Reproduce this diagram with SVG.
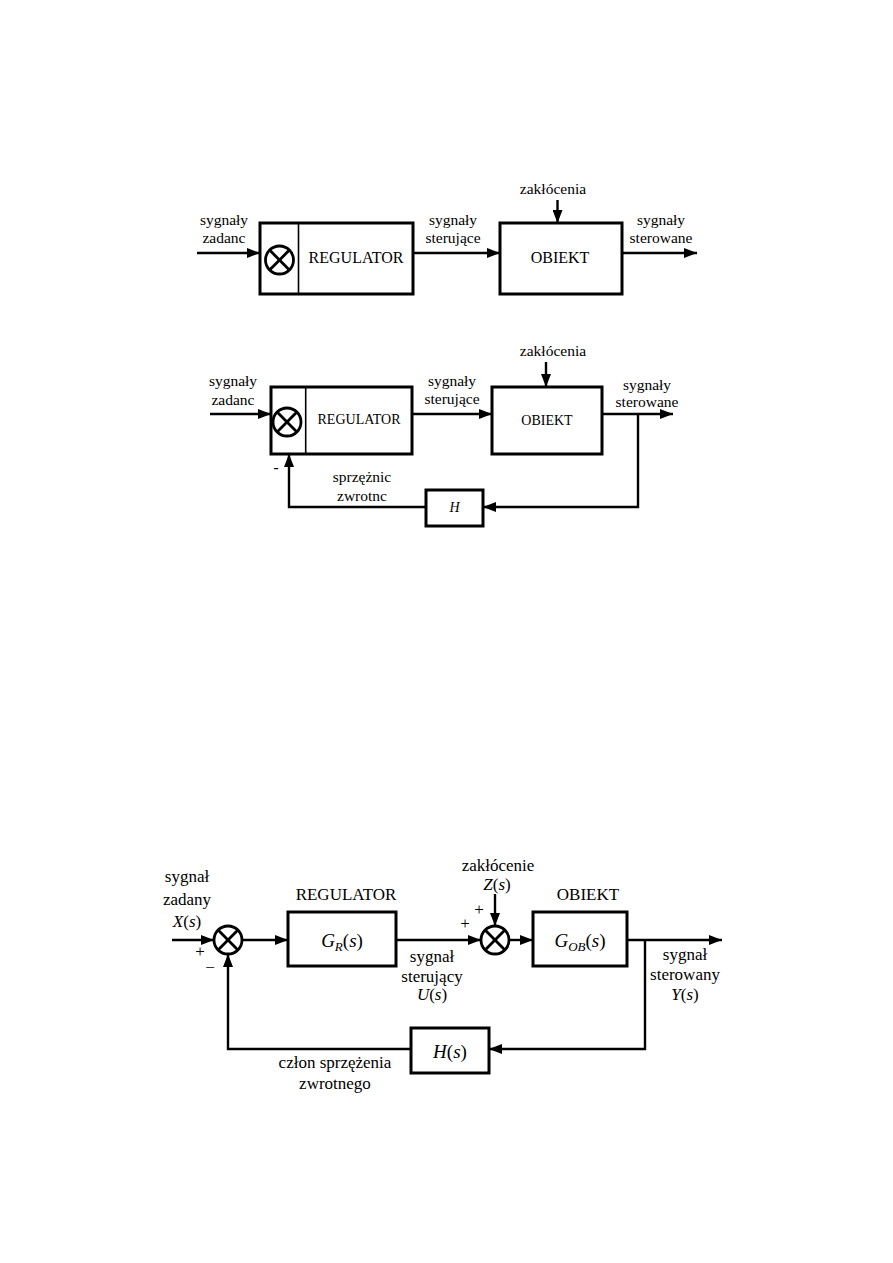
<svg xmlns="http://www.w3.org/2000/svg" width="893" height="1263" viewBox="0 0 893 1263">
<style>
.box{fill:none;stroke:#000;stroke-width:3}
.div{stroke:#000;stroke-width:1.6}
.sum{fill:none;stroke:#000;stroke-width:2.8}
.ln{fill:none;stroke:#000;stroke-width:2.4}
text{font-family:'Liberation Serif','DejaVu Serif','Times New Roman',serif;fill:#000;text-anchor:middle}
.l1{font-size:15.5px}
.b1{font-size:16px}
.b2{font-size:14px}
.l2{font-size:15.5px}
.l3{font-size:17px}
.m3{font-size:19px}
.it{font-style:italic}
</style>
<defs>
<marker id="ar" viewBox="0 0 13 10" refX="13" refY="5" markerWidth="13" markerHeight="10" orient="auto" markerUnits="userSpaceOnUse">
<path d="M0,0 L13,5 L0,10 z" fill="#000"/>
</marker>
</defs>
<rect width="893" height="1263" fill="#fff"/>
<g font-family="Liberation Serif, DejaVu Serif, serif">

<!-- Diagram 1 -->
<g id="d1-regulator">
<rect class="box" x="260" y="223" width="153" height="71"/>
<line class="div" x1="298.5" y1="223" x2="298.5" y2="294"/>
<circle class="sum" cx="279.5" cy="260" r="14"/>
<line class="sum" x1="269.6" y1="250.1" x2="289.4" y2="269.9"/>
<line class="sum" x1="289.4" y1="250.1" x2="269.6" y2="269.9"/>
<text class="b1" x="356" y="263">REGULATOR</text>
</g>
<g id="d1-obiekt">
<rect class="box" x="500" y="223" width="122" height="71"/>
<text class="b1" x="560" y="263">OBIEKT</text>
</g>
<g id="d1-connectors">
<line class="ln" x1="197" y1="253" x2="260" y2="253" marker-end="url(#ar)"/>
<line class="ln" x1="413" y1="253" x2="500" y2="253" marker-end="url(#ar)"/>
<line class="ln" x1="557.5" y1="200" x2="557.5" y2="223" marker-end="url(#ar)"/>
<line class="ln" x1="622" y1="253" x2="697" y2="253" marker-end="url(#ar)"/>
</g>
<g id="d1-labels">
<text class="l1" x="224" y="225">sygnały</text>
<text class="l1" x="224" y="243">zadanc</text>
<text class="l1" x="453" y="225">sygnały</text>
<text class="l1" x="453" y="243">sterujące</text>
<text class="l1" x="661" y="225">sygnały</text>
<text class="l1" x="661" y="243">sterowane</text>
<text class="l1" x="553" y="194">zakłócenia</text>
</g>

<!-- Diagram 2 -->
<g id="d2-regulator">
<rect class="box" x="271" y="387" width="141" height="67"/>
<line class="div" x1="305.7" y1="387" x2="305.7" y2="454"/>
<circle class="sum" cx="287" cy="422" r="14"/>
<line class="sum" x1="277.1" y1="412.1" x2="296.9" y2="431.9"/>
<line class="sum" x1="296.9" y1="412.1" x2="277.1" y2="431.9"/>
<text class="b2" x="359" y="424">REGULATOR</text>
</g>
<g id="d2-obiekt">
<rect class="box" x="492" y="387" width="110" height="67"/>
<text class="b2" x="547" y="425">OBIEKT</text>
</g>
<g id="d2-h">
<rect class="box" x="426" y="490" width="57" height="36"/>
<text class="b2 it" x="454.5" y="512">H</text>
</g>
<g id="d2-connectors">
<line class="ln" x1="210" y1="414" x2="271" y2="414" marker-end="url(#ar)"/>
<line class="ln" x1="412" y1="414" x2="492" y2="414" marker-end="url(#ar)"/>
<line class="ln" x1="546" y1="362" x2="546" y2="387" marker-end="url(#ar)"/>
<line class="ln" x1="602" y1="414" x2="673" y2="414" marker-end="url(#ar)"/>
<path class="ln" d="M638,414 V507 H483" marker-end="url(#ar)"/>
<path class="ln" d="M426,507 H289 V454" marker-end="url(#ar)"/>
</g>
<g id="d2-labels">
<text class="l2" x="233" y="386">sygnały</text>
<text class="l2" x="233" y="405">zadanc</text>
<text class="l2" x="452" y="386">sygnały</text>
<text class="l2" x="452" y="404">sterujące</text>
<text class="l2" x="647" y="390">sygnały</text>
<text class="l2" x="647" y="407">sterowane</text>
<text class="l2" x="553" y="356">zakłócenia</text>
<text class="l2" x="362" y="482">sprzężnic</text>
<text class="l2" x="362" y="501">zwrotnc</text>
<text class="l2" x="276" y="472" font-weight="bold">-</text>
</g>

<!-- Diagram 3 -->
<g id="d3-sum1">
<circle class="sum" cx="228" cy="940" r="14"/>
<line class="sum" x1="218.1" y1="930.1" x2="237.9" y2="949.9"/>
<line class="sum" x1="237.9" y1="930.1" x2="218.1" y2="949.9"/>
</g>
<g id="d3-regulator">
<rect class="box" x="288" y="912" width="108" height="54"/>
<text class="m3" x="342" y="947"><tspan class="it">G</tspan><tspan class="it" font-size="13px" dy="4">R</tspan><tspan dy="-4">(</tspan><tspan class="it">s</tspan>)</text>
<text class="l3" x="346" y="900">REGULATOR</text>
</g>
<g id="d3-sum2">
<circle class="sum" cx="495" cy="940" r="14"/>
<line class="sum" x1="485.1" y1="930.1" x2="504.9" y2="949.9"/>
<line class="sum" x1="504.9" y1="930.1" x2="485.1" y2="949.9"/>
</g>
<g id="d3-obiekt">
<rect class="box" x="533" y="912" width="94" height="54"/>
<text class="m3" x="580" y="947"><tspan class="it">G</tspan><tspan class="it" font-size="13px" dy="4">OB</tspan><tspan dy="-4">(</tspan><tspan class="it">s</tspan>)</text>
<text class="l3" x="588" y="900">OBIEKT</text>
</g>
<g id="d3-h">
<rect class="box" x="411" y="1028" width="78" height="45"/>
<text class="m3" x="450" y="1058"><tspan class="it">H</tspan>(<tspan class="it">s</tspan>)</text>
</g>
<g id="d3-connectors">
<line class="ln" x1="172" y1="940" x2="214" y2="940" marker-end="url(#ar)"/>
<line class="ln" x1="242" y1="940" x2="288" y2="940" marker-end="url(#ar)"/>
<line class="ln" x1="396" y1="940" x2="481" y2="940" marker-end="url(#ar)"/>
<line class="ln" x1="495" y1="894" x2="495" y2="926" marker-end="url(#ar)"/>
<line class="ln" x1="509" y1="940" x2="533" y2="940" marker-end="url(#ar)"/>
<line class="ln" x1="627" y1="940" x2="722" y2="940" marker-end="url(#ar)"/>
<path class="ln" d="M645,940 V1049 H489" marker-end="url(#ar)"/>
<path class="ln" d="M411,1049 H228 V954" marker-end="url(#ar)"/>
</g>
<g id="d3-labels">
<text class="l3" x="187" y="882">sygnał</text>
<text class="l3" x="187" y="905">zadany</text>
<text class="l3" x="187" y="927"><tspan class="it">X</tspan>(<tspan class="it">s</tspan>)</text>
<text class="l3" x="200" y="957">+</text>
<text class="l3" x="210" y="973">−</text>
<text class="l3" x="465" y="929">+</text>
<text class="l3" x="479" y="915">+</text>
<text class="l3" x="498" y="871">zakłócenie</text>
<text class="l3" x="497" y="890"><tspan class="it">Z</tspan>(<tspan class="it">s</tspan>)</text>
<text class="l3" x="432" y="962">sygnał</text>
<text class="l3" x="432" y="982">sterujący</text>
<text class="l3" x="432" y="1000"><tspan class="it">U</tspan>(<tspan class="it">s</tspan>)</text>
<text class="l3" x="685" y="960">sygnał</text>
<text class="l3" x="685" y="980">sterowany</text>
<text class="l3" x="685" y="1000"><tspan class="it">Y</tspan>(<tspan class="it">s</tspan>)</text>
<text class="l3" x="335" y="1068">człon sprzężenia</text>
<text class="l3" x="335" y="1089">zwrotnego</text>
</g>
</g>
</svg>
